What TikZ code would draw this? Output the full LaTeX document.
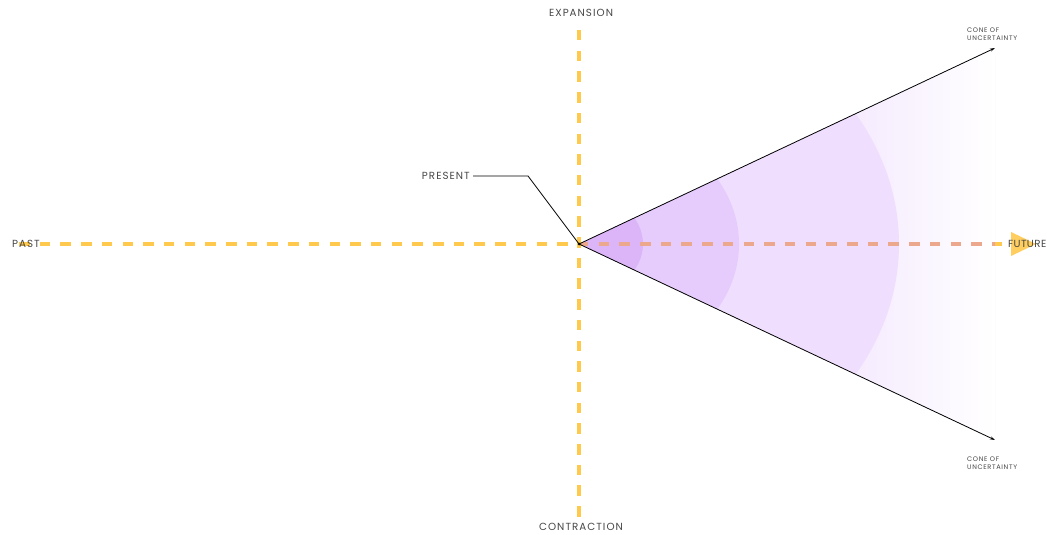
\documentclass[tikz,border=0pt]{standalone}
\usepackage{fontspec}
\setmainfont{Poppins}
\newfontfamily\lab[LetterSpace=10]{Poppins}
\newfontfamily\labtight[LetterSpace=4]{Poppins}
\usetikzlibrary{arrows.meta}
\definecolor{axiscol}{HTML}{FFC94D}
\definecolor{axisover}{HTML}{ECA88C}
\definecolor{cone1}{HTML}{DBB5F8}
\definecolor{cone2}{HTML}{E6CCFD}
\definecolor{cone3}{HTML}{F0DEFE}
\definecolor{cone4}{HTML}{F5EBFE}
\definecolor{txt}{HTML}{484848}
\begin{document}
\begin{tikzpicture}[x=1pt,y=-1pt,
  axisline/.style={line width=3.5pt, dash pattern=on 10.5pt off 10.2pt},
  lbl/.style={font=\lab\fontsize{10.3}{12}\selectfont, text=txt, inner sep=0pt},
  smalllbl/.style={font=\lab\fontsize{6.6}{7.6}\selectfont, text=txt, inner sep=0pt, align=left, anchor=north west},
  coneedge/.style={black, line width=0.8pt, -{Stealth[length=5pt,width=3pt]}},
  leader/.style={black, line width=0.8pt}]
\useasboundingbox (0,0) rectangle (1047,535);
\fill[white] (0,0) rectangle (1047,535);
\coordinate (O) at (579,244);
\coordinate (T) at (995,48);
\coordinate (B) at (995,440);
\coordinate (bend) at (528,176);
\coordinate (hstart) at (19,244);
\coordinate (hend) at (1012,244);
\coordinate (vstart) at (579,30);
\coordinate (vend) at (579,520);
% cone fill
\begin{scope}
  \clip (O) -- (T) -- (B) -- cycle;
  \fill[cone4] (O) -- (T) -- (B) -- cycle;
  \shade[left color=cone4, right color=white] (855,40) rectangle (995,450);
  \fill[cone3] (O) ellipse [x radius=320, y radius=259];
  \fill[cone2] (O) ellipse [x radius=160, y radius=129.5];
  \fill[cone1] (O) ellipse [x radius=64, y radius=52];
\end{scope}
% axes
\draw[axisline, axiscol] (vstart) -- (vend);
\draw[axisline, axiscol] (hstart) -- (hend);
\begin{scope}
  \clip (O) -- (T) -- (B) -- cycle;
  \draw[axisline, axisover] (hstart) -- (hend);
\end{scope}
\fill[axiscol, opacity=0.9] (1011,232) -- (1036,244) -- (1011,256) -- cycle;
% cone edges
\draw[coneedge] (O) -- (T);
\draw[coneedge] (O) -- (B);
% labels
\node[lbl] (expansion) at (581,13) {EXPANSION};
\node[lbl] (contraction) at (581,527) {CONTRACTION};
\node[lbl, anchor=west] (past) at (12,244) {PAST};
\node[lbl, font=\labtight\fontsize{10.3}{12}\selectfont, anchor=east] (future) at (1046.5,244) {FUTURE};
\node[lbl, anchor=east] (present) at (470,176) {PRESENT};
\node[smalllbl] (coneT) at (967,28) {CONE OF\\UNCERTAINTY};
\node[smalllbl] (coneB) at (967,457) {CONE OF\\UNCERTAINTY};
% present leader
\draw[leader] ([xshift=3pt]present.east) -- (bend) -- (O);
\fill[black] (O) circle (1.5);
\end{tikzpicture}
\end{document}
